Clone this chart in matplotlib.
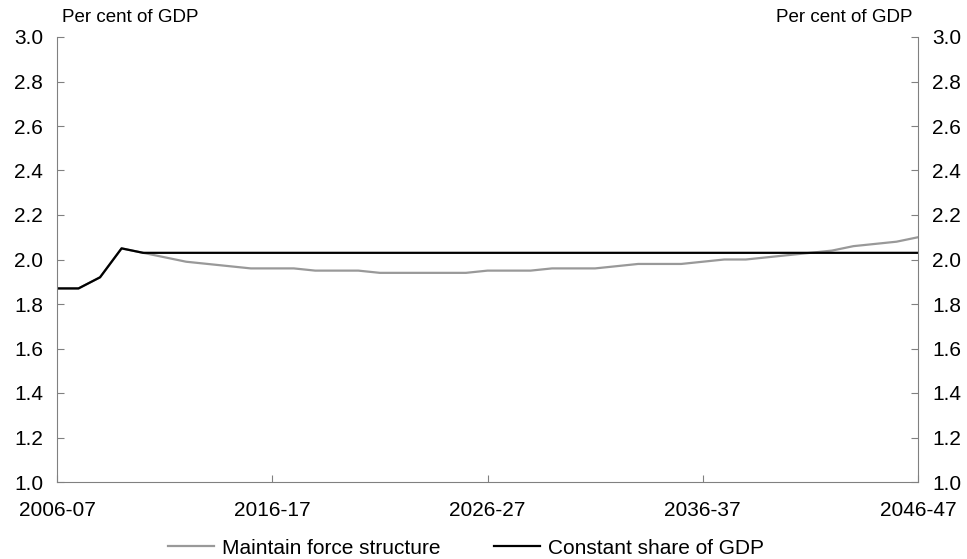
import matplotlib
matplotlib.use("Agg")
import matplotlib.pyplot as plt

plt.rcParams['font.family'] = ['Liberation Sans', 'DejaVu Sans']

years = [f"{y}-{(y+1) % 100:02d}" for y in range(2006, 2047)]
tick_labels = ["2006-07", "2016-17", "2026-27", "2036-37", "2046-47"]

maintain_force = [1.87, 1.87, 1.92, 2.05, 2.03, 2.01, 1.99, 1.98, 1.97, 1.96,
                  1.96, 1.96, 1.95, 1.95, 1.95, 1.94, 1.94, 1.94, 1.94, 1.94,
                  1.95, 1.95, 1.95, 1.96, 1.96, 1.96, 1.97, 1.98, 1.98, 1.98,
                  1.99, 2.00, 2.00, 2.01, 2.02, 2.03, 2.04, 2.06, 2.07, 2.08,
                  2.10]
constant_share = [1.87, 1.87, 1.92, 2.05] + [2.03] * 37

x = list(range(len(years)))

fig = plt.figure(figsize=(9.67, 5.59), dpi=100)
ax = fig.add_axes([57/967, 1-482/559, (918-57)/967, (482-37)/559])

l1, = ax.plot(x, maintain_force, color='#999999', lw=1.6, label='Maintain force structure')
l2, = ax.plot(x, constant_share, color='black', lw=1.6, label='Constant share of GDP')

ax.set_xlim(0, 40)
ax.set_ylim(1.0, 3.0)
yt = [1.0 + 0.2*i for i in range(11)]
ax.set_yticks(yt)
ax.set_yticklabels([f"{v:.1f}" for v in yt])
ax.set_xticks([years.index(t) for t in tick_labels])
ax.set_xticklabels(tick_labels)

for s in ['left', 'right', 'bottom']:
    ax.spines[s].set_color('#808080')
ax.spines['top'].set_visible(False)

ax.tick_params(axis='both', direction='in', length=5, color='#808080', labelsize=15, labelcolor='black')
ax.tick_params(axis='y', pad=10, right=True, labelright=True)
ax.tick_params(axis='x', pad=14)

fig.text(62/967, 1-17/559, "Per cent of GDP", fontsize=13.5, ha='left', va='center')
fig.text(912/967, 1-17/559, "Per cent of GDP", fontsize=13.5, ha='right', va='center')

fig.legend(handles=[l1, l2], loc='center', bbox_to_anchor=(466/967, 1-548/559), ncol=2,
           frameon=False, fontsize=15, handlelength=2.2, handletextpad=0.37,
           columnspacing=2.6, borderaxespad=0, borderpad=0)

fig.savefig("out.png", dpi=100)
